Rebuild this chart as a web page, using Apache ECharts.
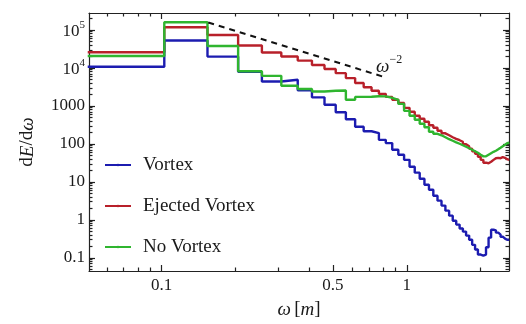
<!DOCTYPE html>
<html><head><meta charset="utf-8">
<script src="https://cdn.jsdelivr.net/npm/echarts@6/dist/echarts.min.js"></script>
<style>html,body{margin:0;padding:0;background:#fff}#c{width:526px;height:324px}</style>
</head><body><div id="c"></div>
<script>
// bin edges in omega [m] (left edges of 50 bins, plus the final right edge)
const binEdges = [0.05, 0.1026, 0.1539, 0.2052, 0.2565, 0.3078, 0.3591, 0.4104, 0.4617, 0.513,
  0.5643, 0.6156, 0.6669, 0.7182, 0.7695, 0.8208, 0.8721, 0.9234, 0.9747, 1.026,
  1.0773, 1.1286, 1.1799, 1.2312, 1.2825, 1.3338, 1.3851, 1.4364, 1.4877, 1.539,
  1.5903, 1.6416, 1.6929, 1.7442, 1.7955, 1.8468, 1.8981, 1.9494, 2.0007, 2.052,
  2.1033, 2.1546, 2.2059, 2.2572, 2.3085, 2.3598, 2.4111, 2.4624, 2.5137, 2.565, 2.6163];

const vortex = [1.08e4, 5.3e4, 1.99e4, 7.9e3, 4.4e3, 4.9e3, 2.57e3, 1.68e3, 1.07e3, 680,
  445, 282, 215, 193, 128, 105, 70, 52, 38, 25,
  17.5, 12.1, 8.4, 6.2, 4.3, 3.2, 2.37, 1.75, 1.29, 0.95,
  0.75, 0.59, 0.49, 0.385, 0.30, 0.22, 0.165, 0.122, 0.115, 0.122,
  0.19, 0.34, 0.55, 0.53, 0.46, 0.41, 0.36, 0.32, 0.30, 0.30];

const ejectedVortex = [2.6e4, 1.18e5, 7.4e4, 3.9e4, 2.56e4, 2.0e4, 1.56e4, 1.2e4, 9.4e3, 7.3e3,
  5.4e3, 4.0e3, 3.1e3, 2.5e3, 2.08e3, 1.73e3, 1.45e3, 1.2e3, 890, 700,
  550, 458, 382, 309, 266, 222, 190, 169, 150, 136,
  125, 114, 98, 87, 75, 64, 55, 46, 38, 32,
  31, 34, 38, 42, 43, 42, 44.7, 43, 39.5, 38];

const noVortex = [2.07e4, 1.6e5, 3.8e4, 8.2e3, 6.2e3, 3.4e3, 2.8e3, 2.39e3, 2.5e3, 2.55e3,
  1.45e3, 1.73e3, 1.75e3, 1.8e3, 1.78e3, 1.63e3, 1.45e3, 1.13e3, 743, 550,
  432, 339, 274, 209, 185, 169, 150, 133, 121, 110,
  101, 92, 84, 77, 70, 64, 58.5, 52, 47, 47,
  52, 57, 62, 66, 72, 79, 87, 95, 104, 107];

// omega^-2 guide line end points
const guideOmega = [0.155, 0.8];
const guideValue = [1.58e5, 5.9e3];

// tick labels
const xTickLabels = [0.1, 0.5, 1];
const yTickLabels = [0.1, 1, 10, 100, 1000, 1e4, 1e5];

const xMinorTicks = [0.06, 0.07, 0.08, 0.09, 0.2, 0.3, 0.4, 0.6, 0.7, 0.8, 0.9, 2];
const yMinorTicks = [];
[0.01, 0.1, 1, 10, 100, 1000, 1e4, 1e5].forEach(d => {
  for (let m = 2; m <= 9; m++) yMinorTicks.push(+(d * m).toPrecision(3));
});

const FONT = 'Liberation Serif';
const TXT = '#1a1a1a';

function stepData(vals) {
  const d = vals.map((v, i) => [binEdges[i], v]);
  d.push([binEdges[vals.length], vals[vals.length - 1]]);
  return d;
}

const XMIN = 0.0506, XMAX = 2.61, YMIN = 0.045, YMAX = 2.8e5;
const axisLineStyle = { color: '#222', width: 1.2 };

function xAx(pos, major, showLabel, showLine) {
  return {
    type: 'log', min: XMIN, max: XMAX, position: pos,
    axisLine: { show: showLine, lineStyle: axisLineStyle },
    axisTick: { show: true, inside: true, length: major ? 6 : 3.5, customValues: major ? xTickLabels : xMinorTicks, lineStyle: { color: '#222', width: 1.2 } },
    axisLabel: showLabel ? { show: true, customValues: xTickLabels, margin: 6, fontFamily: FONT, fontSize: 17, color: TXT,
      formatter: v => { const r = Math.round(v * 10) / 10; return String(r); } } : { show: false },
    splitLine: { show: false }, minorTick: { show: false },
  };
}
function yAx(pos, major, showLabel, showLine) {
  return {
    type: 'log', min: YMIN, max: YMAX, position: pos,
    axisLine: { show: showLine, lineStyle: axisLineStyle },
    axisTick: { show: true, inside: true, length: major ? 6 : 3.5, customValues: major ? yTickLabels : yMinorTicks, lineStyle: { color: '#222', width: 1.2 } },
    axisLabel: showLabel ? { show: true, customValues: yTickLabels, margin: 4, fontFamily: FONT, fontSize: 17, color: TXT,
      formatter: v => { const e = Math.round(Math.log10(v)); if (e >= 4) return '{b|10}{s|' + e + '}'; if (e < 0) return '0.1'; return String(Math.pow(10, e)); },
      rich: { b: { fontFamily: FONT, fontSize: 17, color: TXT, verticalAlign: 'bottom', lineHeight: 20 }, s: { fontFamily: FONT, fontSize: 11, color: TXT, verticalAlign: 'top', lineHeight: 20 } } } : { show: false },
    splitLine: { show: false }, minorTick: { show: false },
  };
}

const xAxes = [xAx('bottom', true, true, true), xAx('bottom', false, false, false), xAx('top', true, false, true), xAx('top', false, false, false)];
xAxes[0].name = '{i|ω} {r|[}{i|m}{r|]}';
xAxes[0].nameLocation = 'middle';
xAxes[0].nameGap = 29;
xAxes[0].nameTextStyle = { rich: { i: { fontFamily: FONT, fontSize: 19, fontStyle: 'italic', color: TXT }, r: { fontFamily: FONT, fontSize: 19, color: TXT } } };
const yAxes = [yAx('left', true, true, true), yAx('left', false, false, false), yAx('right', true, false, true), yAx('right', false, false, false)];
yAxes[0].name = '{r|d}{i|E}{r|/d}{i|ω}';
yAxes[0].nameLocation = 'middle';
yAxes[0].nameGap = 52;
yAxes[0].nameRotate = 90;
yAxes[0].nameTextStyle = { rich: { i: { fontFamily: FONT, fontSize: 19, fontStyle: 'italic', color: TXT }, r: { fontFamily: FONT, fontSize: 19, color: TXT } } };

const chart = echarts.init(document.getElementById('c'), null, { renderer: 'canvas' });
chart.setOption({
  animation: false,
  backgroundColor: '#fff',
  grid: { left: 89, right: 17, top: 13, bottom: 52 },
  xAxis: xAxes,
  yAxis: yAxes,
  legend: {
    orient: 'vertical', left: 99, top: 149, itemWidth: 26, itemHeight: 3, itemGap: 19,
    data: ['Vortex', 'Ejected Vortex', 'No Vortex'],
    textStyle: { fontFamily: FONT, fontSize: 19, color: TXT, lineHeight: 22, padding: [0, 0, 0, 7] }
  },
  graphic: [{
    type: 'text', left: 376, top: 54,
    style: { text: '{w|ω}{s|−2}', rich: {
      w: { fontFamily: FONT, fontSize: 19, fontStyle: 'italic', fill: TXT, verticalAlign: 'bottom', lineHeight: 22 },
      s: { fontFamily: FONT, fontSize: 12, fill: TXT, verticalAlign: 'top', lineHeight: 22 } } }
  }],
  series: [
    { name: 'Vortex', type: 'line', step: 'end', symbol: 'none', data: stepData(vortex), lineStyle: { color: '#1c1cb0', width: 2.4 }, itemStyle: { color: '#1c1cb0' }, z: 3 },
    { name: 'Ejected Vortex', type: 'line', step: 'end', symbol: 'none', data: stepData(ejectedVortex), lineStyle: { color: '#b8202a', width: 2.4 }, itemStyle: { color: '#b8202a' }, z: 2 },
    { name: 'No Vortex', type: 'line', step: 'end', symbol: 'none', data: stepData(noVortex), lineStyle: { color: '#2fb52f', width: 2.4 }, itemStyle: { color: '#2fb52f' }, z: 4 },
    { type: 'line', symbol: 'none', data: guideOmega.map((w, i) => [w, guideValue[i]]), lineStyle: { color: '#111', width: 2, type: [6, 5] }, z: 5 }
  ]
});
</script></body></html>
